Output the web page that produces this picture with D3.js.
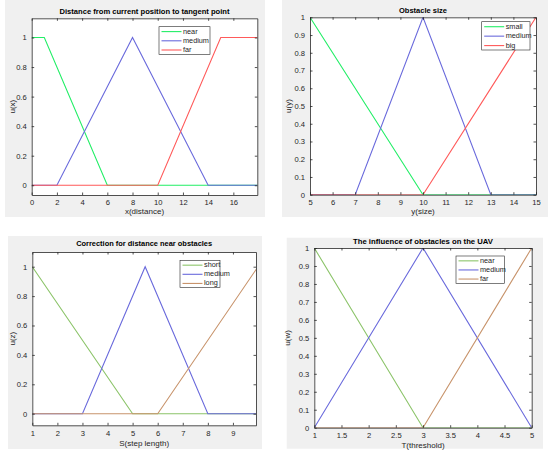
<!DOCTYPE html>
<html>
<head>
<meta charset="utf-8">
<script src="https://cdn.jsdelivr.net/npm/d3@7"></script>
<style>
  body { margin: 0; background: #fff; }
  svg { font-family: "Liberation Sans", Arial, sans-serif; }
</style>
</head>
<body>
<svg width="550" height="453"></svg>
<script>
// membership functions as [x, u] break points
const distanceNames = ["near", "medium", "far"];
const distanceNear = [[0, 1], [1, 1], [6, 0], [18, 0]];
const distanceMedium = [[0, 0], [2, 0], [8, 1], [14, 0], [18, 0]];
const distanceFar = [[0, 0], [10, 0], [15, 1], [18, 1]];
const distanceXTicks = [0, 2, 4, 6, 8, 10, 12, 14, 16];
const distanceYTicks = [0, 0.2, 0.4, 0.6, 0.8, 1];

const sizeNames = ["small", "medium", "big"];
const sizeSmall = [[5, 1], [10, 0], [15, 0]];
const sizeMedium = [[5, 0], [7, 0], [10, 1], [13, 0], [15, 0]];
const sizeBig = [[5, 0], [10, 0], [15, 1]];
const sizeXTicks = [5, 6, 7, 8, 9, 10, 11, 12, 13, 14, 15];
const sizeYTicks = [0, 0.1, 0.2, 0.3, 0.4, 0.5, 0.6, 0.7, 0.8, 0.9, 1];

const stepNames = ["short", "medium", "long"];
const stepShort = [[1, 1], [5, 0], [10, 0]];
const stepMedium = [[1, 0], [3, 0], [5.5, 1], [8, 0], [10, 0]];
const stepLong = [[1, 0], [6, 0], [10, 1]];
const stepXTicks = [1, 2, 3, 4, 5, 6, 7, 8, 9];
const stepYTicks = [0, 0.2, 0.4, 0.6, 0.8, 1];

const influenceNames = ["near", "medium", "far"];
const influenceNear = [[1, 1], [3, 0], [5, 0]];
const influenceMedium = [[1, 0], [3, 1], [5, 0]];
const influenceFar = [[1, 0], [3, 0], [5, 1]];
const influenceXTicks = [1, 1.5, 2, 2.5, 3, 3.5, 4, 4.5, 5];
const influenceYTicks = [0, 0.1, 0.2, 0.3, 0.4, 0.5, 0.6, 0.7, 0.8, 0.9, 1];

const svg = d3.select("svg");
const ink = "#262626";

const brightColors = ["#22ee66", "#6a6adc", "#ff5a5a"];
const dullColors = ["#8cc46a", "#6a6adc", "#c8946c"];

const panels = [
	{
		id: "p1", title: "Distance from current position to tangent point", titleW: 170,
		xLabel: "x(distance)", yLabel: "u(x)",
		names: distanceNames, series: [distanceNear, distanceMedium, distanceFar], colors: brightColors,
		xTicks: distanceXTicks, yTicks: distanceYTicks,
		xDomain: [0, 17.9], yDomain: [-0.066, 1.13],
		bg: [5, 0, 260, 217], box: [31.7, 18.3, 257.3, 195],
		titleY: 12, xLabelY: 212.3, yLabelX: 13,
		legend: [159, 26.7, 51, 27.6]
	},
	{
		id: "p2", title: "Obstacle size", titleW: 48,
		xLabel: "y(size)", yLabel: "u(y)",
		names: sizeNames, series: [sizeSmall, sizeMedium, sizeBig], colors: brightColors,
		xTicks: sizeXTicks, yTicks: sizeYTicks,
		xDomain: [5, 15], yDomain: [0, 1],
		bg: [282, 0, 266, 217], box: [310, 17.3, 536, 194.7],
		titleY: 11, xLabelY: 211.7, yLabelX: 289,
		legend: [481.7, 21.7, 48.3, 28.3]
	},
	{
		id: "p3", title: "Correction for distance near obstacles", titleW: 136,
		xLabel: "S(step length)", yLabel: "u(z)",
		names: stepNames, series: [stepShort, stepMedium, stepLong], colors: dullColors,
		xTicks: stepXTicks, yTicks: stepYTicks,
		xDomain: [1, 9.92], yDomain: [-0.079, 1.1],
		bg: [8, 236, 254, 213], box: [32.3, 252, 256, 425.3],
		titleY: 243.5, xLabelY: 444.3, yLabelX: 12.5,
		legend: [180, 260.3, 40, 27.4]
	},
	{
		id: "p4", title: "The influence of obstacles on the UAV", titleW: 140,
		xLabel: "T(threshold)", yLabel: "u(w)",
		names: influenceNames, series: [influenceNear, influenceMedium, influenceFar], colors: dullColors,
		xTicks: influenceXTicks, yTicks: influenceYTicks,
		xDomain: [1, 5], yDomain: [0, 1],
		bg: [286.7, 237.7, 256.3, 211], box: [314.3, 248, 531.7, 427.7],
		titleY: 241.7, xLabelY: 446, yLabelX: 288,
		legend: [456, 256, 48.3, 27.3]
	}
];

panels.forEach(function (p) {
	const [x0, y0, x1, y1] = p.box;

	svg.append("rect")
		.attr("x", p.bg[0]).attr("y", p.bg[1])
		.attr("width", p.bg[2]).attr("height", p.bg[3])
		.attr("fill", "#f0f0f0");

	svg.append("rect")
		.attr("x", x0).attr("y", y0)
		.attr("width", x1 - x0).attr("height", y1 - y0)
		.attr("fill", "#fff");

	const x = d3.scaleLinear().domain(p.xDomain).range([x0, x1]);
	const y = d3.scaleLinear().domain(p.yDomain).range([y1, y0]);

	svg.append("clipPath").attr("id", "clip-" + p.id)
		.append("rect")
		.attr("x", x0).attr("y", y0)
		.attr("width", x1 - x0).attr("height", y1 - y0);

	const line = d3.line().x(d => x(d[0])).y(d => y(d[1]));

	svg.append("g")
		.attr("clip-path", "url(#clip-" + p.id + ")")
		.selectAll("path")
		.data(p.series)
		.join("path")
		.attr("d", line)
		.attr("fill", "none")
		.attr("stroke", (d, i) => p.colors[i])
		.attr("stroke-width", 1.1);

	// axes, ticks pointing inwards, box all round
	const fmt = d3.format("~g");
	const styleAxis = g => {
		g.select(".domain").attr("stroke", ink).attr("stroke-width", 0.8).attr("fill", "none");
		g.selectAll(".tick line").attr("stroke", ink).attr("stroke-width", 0.8);
		g.selectAll(".tick text").attr("fill", ink).attr("font-size", 7.6);
	};

	svg.append("g")
		.attr("transform", `translate(0,${y1})`)
		.call(d3.axisBottom(x).tickValues(p.xTicks).tickFormat(fmt).tickSize(-2.5).tickSizeOuter(0).tickPadding(5))
		.call(styleAxis);
	svg.append("g")
		.attr("transform", `translate(0,${y0})`)
		.call(d3.axisTop(x).tickValues(p.xTicks).tickFormat("").tickSize(-2.5).tickSizeOuter(0))
		.call(styleAxis);
	svg.append("g")
		.attr("transform", `translate(${x0},0)`)
		.call(d3.axisLeft(y).tickValues(p.yTicks).tickFormat(fmt).tickSize(-2.5).tickSizeOuter(0).tickPadding(5))
		.call(styleAxis);
	svg.append("g")
		.attr("transform", `translate(${x1},0)`)
		.call(d3.axisRight(y).tickValues(p.yTicks).tickFormat("").tickSize(-2.5).tickSizeOuter(0))
		.call(styleAxis);

	svg.append("text")
		.attr("x", (x0 + x1) / 2).attr("y", p.titleY)
		.attr("text-anchor", "middle").attr("dominant-baseline", "middle")
		.attr("font-size", 8).attr("font-weight", "bold").attr("fill", "#000")
		.attr("textLength", p.titleW).attr("lengthAdjust", "spacingAndGlyphs")
		.text(p.title);

	svg.append("text")
		.attr("x", (x0 + x1) / 2).attr("y", p.xLabelY)
		.attr("text-anchor", "middle").attr("dominant-baseline", "middle")
		.attr("font-size", 8).attr("fill", ink)
		.text(p.xLabel);

	svg.append("text")
		.attr("transform", `translate(${p.yLabelX},${(y0 + y1) / 2}) rotate(-90)`)
		.attr("text-anchor", "middle").attr("dominant-baseline", "middle")
		.attr("font-size", 8).attr("fill", ink)
		.text(p.yLabel);

	// legend
	const [lx, ly, lw, lh] = p.legend;
	const lg = svg.append("g");
	lg.append("rect")
		.attr("x", lx).attr("y", ly).attr("width", lw).attr("height", lh)
		.attr("fill", "#fff").attr("stroke", ink).attr("stroke-width", 0.6);
	const rowH = lh / p.names.length;
	p.names.forEach(function (name, i) {
		const ry = ly + rowH * (i + 0.5) + 0.3;
		lg.append("line")
			.attr("x1", lx + 2.5).attr("x2", lx + 22.5)
			.attr("y1", ry).attr("y2", ry)
			.attr("stroke", p.colors[i]).attr("stroke-width", 1.1);
		lg.append("text")
			.attr("x", lx + 24).attr("y", ry)
			.attr("dominant-baseline", "middle")
			.attr("font-size", 7.3).attr("fill", ink)
			.text(name);
	});
});
</script>
</body>
</html>
